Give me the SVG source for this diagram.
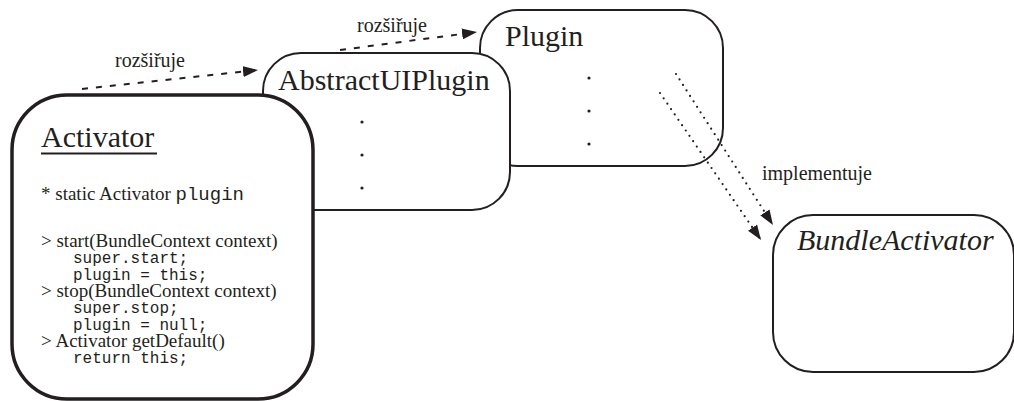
<svg xmlns="http://www.w3.org/2000/svg" width="1014" height="401" viewBox="0 0 1014 401">
<style>
.box{fill:#fff;stroke:#231f20;stroke-width:2}
.thick{stroke-width:3.5}
.serif{font-family:'Liberation Serif','Times New Roman',serif;fill:#231f20}
.mono{font-family:'Liberation Mono','Courier New',monospace;fill:#231f20}
.title{font-size:30px}
.body{font-size:19px}
.code{font-size:16px}
.lbl{font-size:20px}
.dash{fill:none;stroke:#231f20;stroke-width:2;stroke-dasharray:6 8}
.dot{fill:none;stroke:#231f20;stroke-width:2.2;stroke-dasharray:0 6.5;stroke-linecap:round}
.pt{fill:#231f20}
</style>
<defs>
<marker id="ah" markerUnits="userSpaceOnUse" markerWidth="15" markerHeight="11" refX="15" refY="5.5" orient="auto">
<path d="M0,0 L15,5.5 L0,11 z" fill="#231f20"/>
</marker>
</defs>
<g id="plugin">
<rect class="box" x="480" y="10" width="243" height="156" rx="38"/>
<text class="serif title" x="505" y="46">Plugin</text>
<circle class="pt" cx="589" cy="78" r="1.6"/>
<circle class="pt" cx="589" cy="111" r="1.6"/>
<circle class="pt" cx="589" cy="144" r="1.6"/>
</g>
<g id="abstractuiplugin">
<rect class="box" x="263" y="53" width="247" height="157" rx="38"/>
<text class="serif title" x="278" y="90">AbstractUIPlugin</text>
<circle class="pt" cx="362" cy="122" r="1.6"/>
<circle class="pt" cx="362" cy="155" r="1.6"/>
<circle class="pt" cx="362" cy="188" r="1.6"/>
</g>
<g id="activator">
<rect class="box thick" x="12" y="95" width="301" height="304" rx="55"/>
<text class="serif title" x="41" y="147">Activator</text>
<line x1="41" y1="153.5" x2="157" y2="153.5" stroke="#231f20" stroke-width="2"/>
<text class="serif body" x="41" y="200">* static Activator <tspan class="mono" font-size="19">plugin</tspan></text>
<text class="serif body" x="41" y="247">&gt; start(BundleContext context)</text>
<text class="mono code" x="73" y="263">super.start;</text>
<text class="mono code" x="73" y="280">plugin = this;</text>
<text class="serif body" x="41" y="297">&gt; stop(BundleContext context)</text>
<text class="mono code" x="73" y="313">super.stop;</text>
<text class="mono code" x="73" y="330">plugin = null;</text>
<text class="serif body" x="41" y="347">&gt; Activator getDefault()</text>
<text class="mono code" x="73" y="363">return this;</text>
</g>
<g id="bundleactivator">
<rect class="box" x="773" y="215" width="241" height="157" rx="40"/>
<text class="serif title" x="797" y="250" font-style="italic">BundleActivator</text>
</g>
<g id="connectors">
<line class="dash" x1="82" y1="89" x2="258" y2="70" marker-end="url(#ah)"/>
<text class="serif lbl" x="115" y="67">rozšiřuje</text>
<line class="dash" x1="340" y1="50" x2="477" y2="32" marker-end="url(#ah)"/>
<text class="serif lbl" x="357" y="32">rozšiřuje</text>
<line class="dot" x1="676" y1="74" x2="773" y2="225" marker-end="url(#ah)"/>
<line class="dot" x1="660" y1="93" x2="761" y2="240" marker-end="url(#ah)"/>
<text class="serif lbl" x="762" y="180">implementuje</text>
</g>
</svg>
